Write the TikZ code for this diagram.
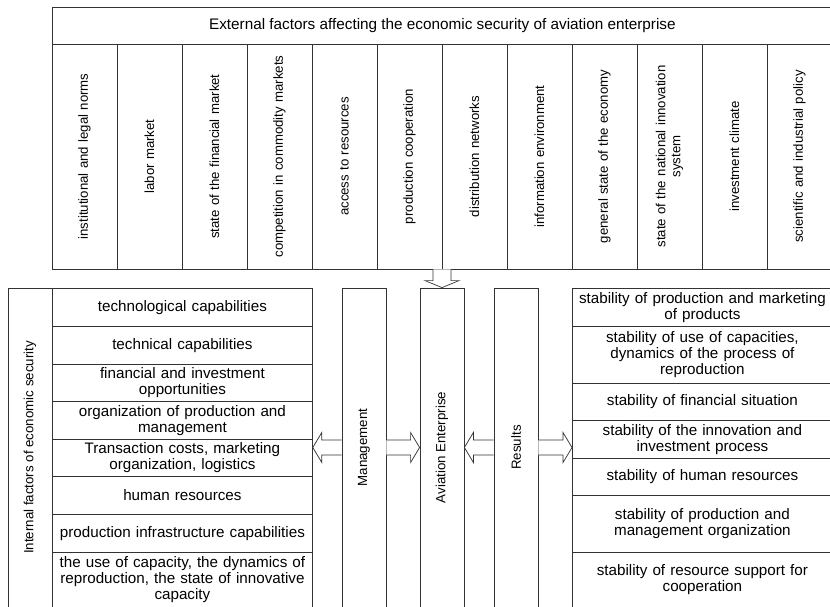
\documentclass[tikz,border=0pt]{standalone}
\usepackage{fontspec}
\setmainfont{Liberation Sans}
\usetikzlibrary{calc,positioning}

%% hollow block arrow: #1 tail, #2 tip, #3 half shaft, #4 half head, #5 head length
\newcommand{\hollowarrow}[5]{%
  \coordinate (hb) at ($(#2)!#5!(#1)$);
  \fill[white] ($(#1)!#3!90:(#2)$) -- ($(hb)!#3!-90:(#1)$) -- ($(hb)!#4!-90:(#1)$) -- (#2)
    -- ($(hb)!#4!90:(#1)$) -- ($(hb)!#3!90:(#1)$) -- ($(#1)!#3!-90:(#2)$) -- cycle;
  \draw[arrowline] ($(#1)!#3!90:(#2)$) -- ($(hb)!#3!-90:(#1)$) -- ($(hb)!#4!-90:(#1)$) -- (#2)
    -- ($(hb)!#4!90:(#1)$) -- ($(hb)!#3!90:(#1)$) -- ($(#1)!#3!-90:(#2)$);
}

\begin{document}
\begin{tikzpicture}[x=1pt, y=-1pt,
  box/.style={draw=black!80, line width=0.8pt, inner sep=2pt, align=center},
  colbox/.style={box, rotate=90, minimum width=225, minimum height=65, text width=215,
    font=\fontsize{13.2}{15}\selectfont},
  pillar/.style={box, rotate=90, minimum width=319, minimum height=44,
    font=\fontsize{13.3}{15}\selectfont},
  rowbox/.style={box, anchor=north west, minimum width=260, text width=256,
    font=\fontsize{15.2}{16}\selectfont},
  arrowline/.style={draw=black!80, line width=0.7pt, line join=miter}]
\useasboundingbox (0,0) rectangle (830,607);

%% external factors
\node[box, anchor=north west, minimum width=780, minimum height=37,
  font=\fontsize{15.3}{17}\selectfont] (ext) at (52,7)
  {External factors affecting the economic security of aviation enterprise};
\foreach \t [count=\i] in {institutional and legal norms, labor market,
    state of the financial market, competition in commodity markets,
    access to resources, production cooperation, distribution networks,
    information environment, general state of the economy,
    state of the national innovation\\system, investment climate,
    scientific and industrial policy}
  \node[colbox] (col\i) at (19.5+65*\i, 156.5) {\t};

%% internal factors
\node[pillar] (intlab) at (30,447.5) {Internal factors of economic security};
\foreach \t/\y/\h [count=\i] in {
    {technological capabilities}/288/38,
    {technical capabilities}/326/38,
    {financial and investment\\opportunities}/364/37,
    {organization of production and\\management}/401/38,
    {Transaction costs, marketing\\organization, logistics}/439/37,
    {human resources}/476/38,
    {production infrastructure capabilities}/514/38,
    {the use of capacity, the dynamics of\\reproduction, the state of innovative\\capacity}/552/55}
  \node[rowbox, minimum height=\h] (l\i) at (52,\y) {\t};

%% centre
\node[pillar] (mgmt) at (364,447.5) {Management};
\node[pillar] (avia) at (442,447.5) {Aviation Enterprise};
\node[pillar] (res) at (516,447.5) {Results};

%% results
\foreach \t/\y/\h [count=\i] in {
    {stability of production and marketing\\of products}/288/38,
    {stability of use of capacities,\\dynamics of the process of\\reproduction}/326/57,
    {stability of financial situation}/383/37,
    {stability of the innovation and\\investment process}/420/38,
    {stability of human resources}/458/37,
    {stability of production and\\management organization}/495/57,
    {stability of resource support for\\cooperation}/552/55}
  \node[rowbox, minimum height=\h] (r\i) at (572,\y) {\t};

%% arrows
\coordinate (ltip) at (mgmt.north -| l1.east);
\coordinate (rtip) at (res.south -| r1.west);
\coordinate (dtail) at (avia.east |- col1.west);
\hollowarrow{mgmt.north}{ltip}{7.5pt}{15pt}{9pt}
\hollowarrow{mgmt.south}{avia.north}{7.5pt}{15pt}{9pt}
\hollowarrow{res.north}{avia.south}{7.5pt}{15pt}{9pt}
\hollowarrow{res.south}{rtip}{7.5pt}{15pt}{9pt}
\hollowarrow{dtail}{avia.east}{9pt}{17pt}{7pt}
\end{tikzpicture}
\end{document}
